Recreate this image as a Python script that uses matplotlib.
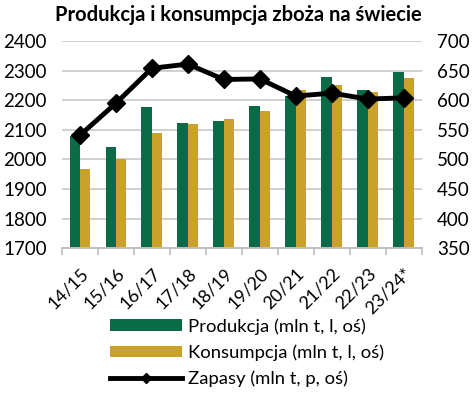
import numpy as np
import matplotlib.pyplot as plt

plt.rcParams['font.family'] = ['Lato', 'DejaVu Sans']

seasons = ['14/15', '15/16', '16/17', '17/18', '18/19', '19/20',
           '20/21', '21/22', '22/23', '23/24*']
produkcja = [2078, 2043, 2177, 2122, 2130, 2179, 2213, 2280, 2234, 2294]
konsumpcja = [1967, 2001, 2091, 2120, 2136, 2165, 2234, 2251, 2228, 2275]
zapasy = [541, 595, 654, 661, 635, 636, 607, 612, 602, 604]

green = '#0b6b47'
gold = '#c9a22b'

fig = plt.figure(figsize=(4.73, 3.93), dpi=100)
ax = fig.add_axes([62 / 473, 1 - 248.3 / 393, (421.7 - 62) / 473, (248.3 - 41) / 393])
ax2 = ax.twinx()

x = np.arange(len(seasons))
w = 0.29
b1 = ax.bar(x - w / 2, produkcja, w, color=green, zorder=2,
            label='Produkcja (mln t, l, oś)')
b2 = ax.bar(x + w / 2, konsumpcja, w, color=gold, zorder=2,
            label='Konsumpcja (mln t, l, oś)')
l1, = ax2.plot(x, zapasy, color='black', lw=3.5, marker='D', ms=9,
               label='Zapasy (mln t, p, oś)')

ax.set_ylim(1700, 2400)
ax.set_yticks(range(1700, 2401, 100))
ax2.set_ylim(350, 700)
ax2.set_yticks(range(350, 701, 50))
ax.set_xlim(-0.5, len(seasons) - 0.5)

ax.grid(axis='y', color='#c8c8c8', lw=1.2, zorder=0)
ax.set_axisbelow(True)
for a in (ax, ax2):
    for s in ('top', 'left', 'right'):
        a.spines[s].set_visible(False)
    a.spines['bottom'].set_color('#bfbfbf')
    a.spines['bottom'].set_linewidth(1.2)

ax.tick_params(axis='y', length=0, labelsize=13.5, pad=11)
ax2.tick_params(axis='y', length=0, labelsize=13.5, pad=11)
ax.set_xticks(x)
ax.set_xticklabels(seasons, rotation=45, ha='right', rotation_mode='anchor',
                   fontsize=13)
ax.tick_params(axis='x', which='major', length=0, pad=12)
ax.set_xticks(np.arange(-0.5, len(seasons), 1), minor=True)
ax.tick_params(axis='x', which='minor', length=5, color='#bfbfbf', width=1.2)

fig.text(238 / 473, 1 - 15 / 393, 'Produkcja i konsumpcja zboża na świecie',
         ha='center', va='center', fontsize=14.5, fontweight='bold')

leg = fig.legend(handles=[b1, b2, l1], loc='upper left',
                 bbox_to_anchor=(110 / 473, 1 - 318 / 393), frameon=False,
                 fontsize=13.3, handlelength=3.9, handleheight=0.55,
                 labelspacing=0.52, handletextpad=0.3, borderpad=0,
                 borderaxespad=0)
leg.legend_handles[2].set_markersize(5)

fig.savefig('out.png', dpi=100)
